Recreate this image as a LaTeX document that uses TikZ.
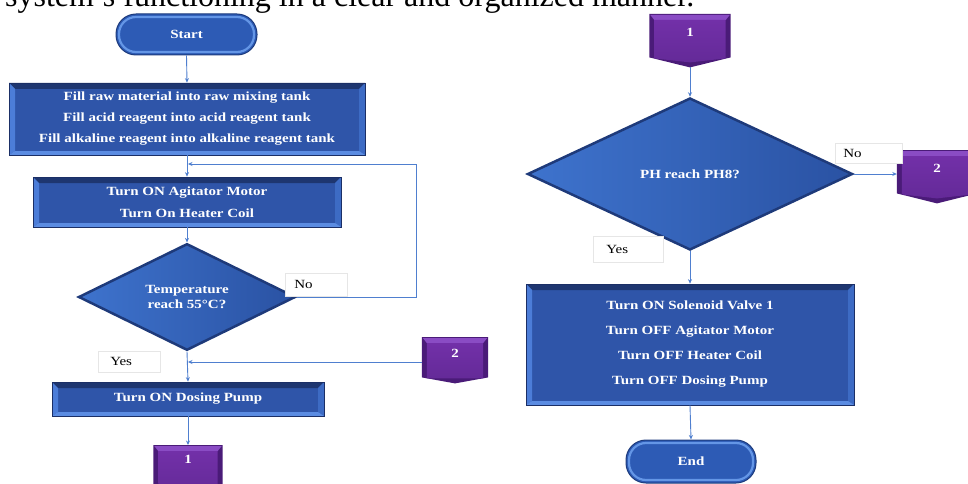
\documentclass[tikz,border=0pt]{standalone}
\usepackage{fontspec}
\setmainfont{Liberation Serif}
\newfontfamily\boxfont[FakeStretch=1.2]{Liberation Serif}
\usetikzlibrary{shapes.geometric,arrows.meta,backgrounds,calc}
\definecolor{faceblue}{HTML}{2F55A9}
\definecolor{edgeblue}{HTML}{1B2F66}
\definecolor{beveltop}{HTML}{1E3670}
\definecolor{bevelleft}{HTML}{4C7DD8}
\definecolor{bevelright}{HTML}{3D6BC4}
\definecolor{bevelbottom}{HTML}{5B8CE2}
\definecolor{dialeft}{HTML}{3E73CD}
\definecolor{diaright}{HTML}{2A52A3}
\definecolor{diaedge}{HTML}{1E3A7A}
\definecolor{termface}{HTML}{2D5BB5}
\definecolor{termedge}{HTML}{1D3B7D}
\definecolor{termlight}{HTML}{6496E6}
\definecolor{purpedge}{HTML}{4A1B78}
\definecolor{purptop}{HTML}{8A4CC4}
\definecolor{purpface}{HTML}{7230A8}
\definecolor{purplow}{HTML}{642A98}
\definecolor{flowcol}{HTML}{4F7FCF}
\definecolor{lbledge}{HTML}{E6E6E6}
\newcommand\bx{\boxfont\bfseries\fontsize{12.5}{21}\selectfont}
\newcommand\lb{\boxfont\fontsize{12.5}{15}\selectfont}
\tikzset{
  procbox/.style={rectangle, fill=faceblue, draw=edgeblue, line width=0.7pt,
    text=white, align=center, inner sep=0pt, font=\bx,
    path picture={
      \coordinate (bvA) at (path picture bounding box.north west);
      \coordinate (bvB) at (path picture bounding box.north east);
      \coordinate (bvC) at (path picture bounding box.south east);
      \coordinate (bvD) at (path picture bounding box.south west);
      \fill[beveltop] (bvA) -- (bvB) -- ($(bvB)+(-6pt,-6pt)$) -- ($(bvA)+(6pt,-6pt)$) -- cycle;
      \fill[bevelleft] (bvA) -- ($(bvA)+(6pt,-6pt)$) -- ($(bvD)+(6pt,4pt)$) -- (bvD) -- cycle;
      \fill[bevelright] (bvB) -- ($(bvB)+(-6pt,-6pt)$) -- ($(bvC)+(-6pt,4pt)$) -- (bvC) -- cycle;
      \fill[bevelbottom] (bvD) -- ($(bvD)+(6pt,4pt)$) -- ($(bvC)+(-6pt,4pt)$) -- (bvC) -- cycle;
    }},
  term/.style={rectangle, rounded corners=20pt, fill=termface, draw=termedge,
    line width=1pt, text=white, font=\bx, inner sep=0pt,
    path picture={
      \coordinate (tmA) at (path picture bounding box.north west);
      \coordinate (tmC) at (path picture bounding box.south east);
      \draw[termlight, line width=2.2pt, rounded corners=17pt]
        ($(tmA)+(3pt,-3pt)$) rectangle ($(tmC)+(-3pt,3pt)$);
    }},
  decision/.style={diamond, left color=dialeft, right color=diaright,
    draw=diaedge, line width=2.5pt, text=white, align=center, inner sep=0pt,
    font=\bx},
  offpg/.style={rectangle, draw=none, text=white, inner xsep=0pt, inner ysep=0pt,
    font=\bx},
  lbl/.style={rectangle, fill=white, draw=lbledge, line width=0.5pt,
    align=left, font=\lb, inner ysep=0pt, anchor=west},
  flow/.style={draw=flowcol, line width=0.9pt, -{Stealth[length=4.5pt,width=4pt]}},
}
\newcommand\offshape[2]{%
  \fill[purpedge] (#1.north west) -- (#1.north east) -- (#1.south east)
    -- ([yshift=-#2]#1.south) -- (#1.south west) -- cycle;
  \fill[purptop] ([shift={(1pt,-1pt)}]#1.north west) -- ([shift={(-1pt,-1pt)}]#1.north east)
    -- ([shift={(-5pt,-6pt)}]#1.north east) -- ([shift={(5pt,-6pt)}]#1.north west) -- cycle;
  \shade[top color=purpface, bottom color=purplow]
    ([shift={(5pt,-6pt)}]#1.north west) -- ([shift={(-5pt,-6pt)}]#1.north east)
    -- ([shift={(-5pt,-1pt)}]#1.south east) -- ([yshift=-#2+5pt]#1.south)
    -- ([shift={(5pt,-1pt)}]#1.south west) -- cycle;
}
\begin{document}
\begin{tikzpicture}[x=1pt,y=-1pt]
\clip (0,0) rectangle (968,484);

\node[anchor=base west, inner sep=0pt, font=\fontsize{32}{36}\selectfont] (title) at (5,6.5)
  {system’s functioning in a clear and organized manner.};

% left column
\node[term, minimum width=141pt, minimum height=41pt] (start) at (186.5,34.5) {Start};
\node[procbox, minimum width=356pt, minimum height=72pt] (b1) at (187,119)
  {Fill raw material into raw mixing tank\\Fill acid reagent into acid reagent tank\\Fill alkaline reagent into alkaline reagent tank};
\node[procbox, minimum width=308pt, minimum height=50pt, font=\boxfont\bfseries\fontsize{12.5}{22}\selectfont] (b2) at (187,202)
  {Turn ON Agitator Motor\\Turn On Heater Coil};
\node[decision, minimum width=217pt, minimum height=98pt, font=\boxfont\bfseries\fontsize{12.5}{15}\selectfont] (d1) at (187,297)
  {Temperature\\reach 55°C?};
\node[lbl, text width=44pt, inner xsep=9pt, minimum height=23pt] (no1) at (285,284.5) {No};
\node[lbl, text width=38pt, inner xsep=12pt, minimum height=21pt] (yes1) at (98,361.5) {Yes};
\node[procbox, minimum width=272pt, minimum height=34pt] (b3) at (188,399) {Turn ON Dosing Pump};
\node[offpg, minimum width=66pt, text height=20pt, text depth=20pt, anchor=north] (c2L) at (455,337) {2};
\node[offpg, minimum width=69pt, text height=18pt, text depth=25pt, anchor=north] (c1L) at (188,445) {1};

% right column
\node[offpg, minimum width=81pt, text height=22pt, text depth=21pt, anchor=north] (c1R) at (690,14) {1};
\node[decision, minimum width=325pt, minimum height=152pt] (d2) at (690,174) {PH reach PH8?};
\node[offpg, minimum width=80pt, text height=22pt, text depth=21pt, anchor=north] (c2R) at (937,150) {2};
\node[lbl, text width=51pt, inner xsep=8pt, minimum height=20pt] (no2) at (835,153) {No};
\node[lbl, text width=44pt, inner xsep=13pt, minimum height=26pt] (yes2) at (593,249) {Yes};
\node[procbox, minimum width=328pt, minimum height=121pt, font=\boxfont\bfseries\fontsize{12.5}{25}\selectfont] (b4) at (690,344.5)
  {Turn ON Solenoid Valve 1\\Turn OFF Agitator Motor\\Turn OFF Heater Coil\\Turn OFF Dosing Pump};
\node[term, minimum width=130pt, minimum height=43pt] (end) at (691,461.5) {End};

% white page and off-page connector shapes behind their texts
\begin{scope}[on background layer]
  \fill[white] (0,0) rectangle (968,484);
  \offshape{c2L}{6pt}
  \offshape{c1L}{10pt}
  \offshape{c1R}{10pt}
  \offshape{c2R}{10pt}
\end{scope}

\coordinate (j1) at (188,164);
\coordinate (k1) at (416,164);
\coordinate (j2) at (188,362);
\coordinate (c1Rtip) at ([yshift=-10pt]c1R.south);

% connectors
\draw[flow] (start.south) -- (b1.north);
\draw[flow] (b1.south) -- (b2.north);
\draw[flow] (b2.south) -- (d1.north);
\draw[flow] (d1.east) -| (k1) -- (j1);
\draw[flow] (d1.south) -- (b3.north);
\draw[flow] (c2L.west |- j2) -- (j2);
\draw[flow] (b3.south) -- (c1L.north);
\draw[flow] (c1Rtip) -- (d2.north);
\draw[flow] (d2.east) -- (c2R.west |- d2.east);
\draw[flow] (d2.south) -- (b4.north);
\draw[flow] (b4.south) -- (end.north);
\end{tikzpicture}
\end{document}
